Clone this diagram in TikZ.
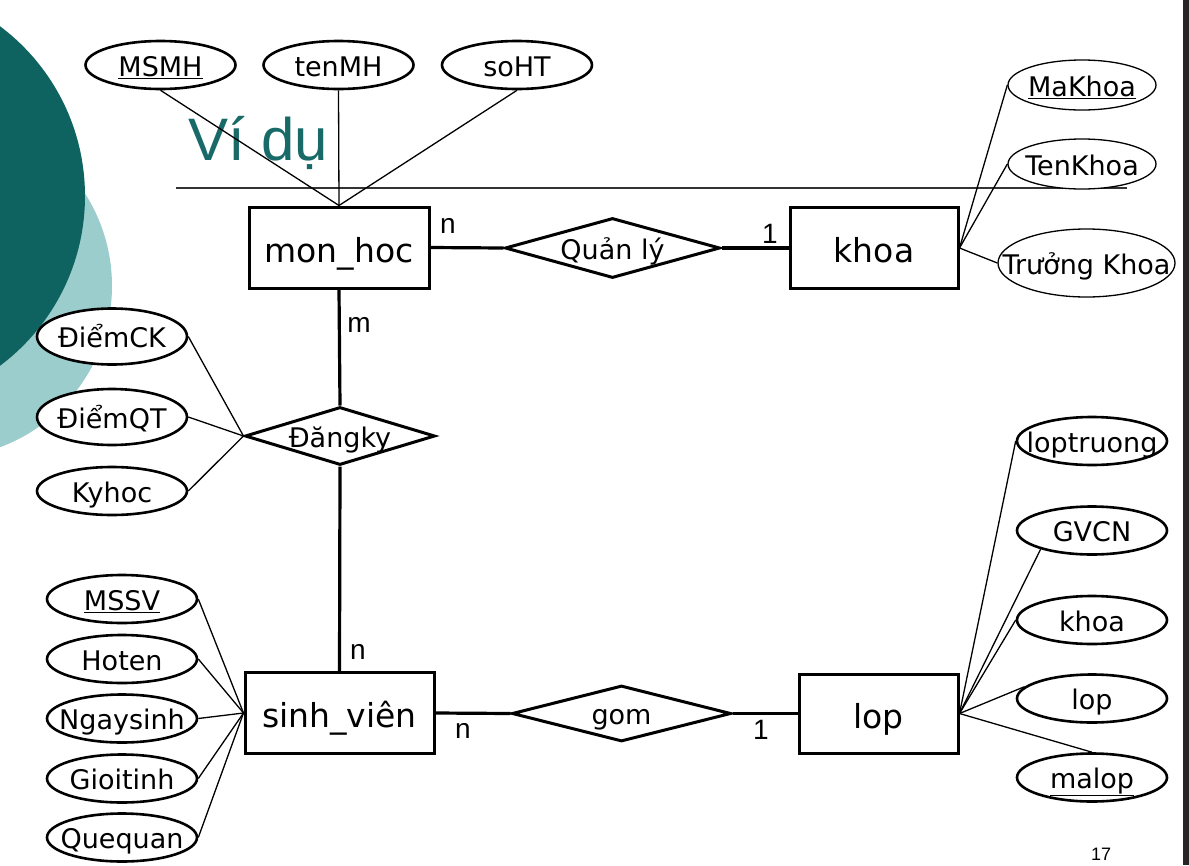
\documentclass[tikz,border=0pt]{standalone}
\usepackage{fontspec}
\setmainfont{DejaVu Sans}
\newfontfamily\arialfont{Liberation Sans}
\usetikzlibrary{shapes.geometric}

\definecolor{tealDark}{RGB}{14,98,96}
\definecolor{tealLight}{RGB}{156,205,205}
\definecolor{tealTitle}{RGB}{24,106,104}

% text that does not widen its node
\newcommand{\Flat}[1]{\makebox[0pt]{#1}}

\begin{document}
\begin{tikzpicture}
      [
        x=1pt, y=-1pt,
        Entity/.style={draw, fill=white, line width=3pt, minimum height=81pt, inner sep=0pt, text height=30pt, text depth=1pt, font=\fontsize{33}{40}\selectfont},
        Relation/.style={diamond, draw, fill=white, line width=3pt, inner sep=0pt, text height=23pt, text depth=1pt, font=\fontsize{27}{32}\selectfont},
        Attr/.style={ellipse, draw, fill=white, line width=2.6pt, minimum width=150pt, minimum height=48pt, inner sep=0pt, text height=23pt, text depth=1pt, font=\fontsize{27}{32}\selectfont},
        AttrThin/.style={Attr, line width=1.3pt},
        Card/.style={inner sep=0pt, font=\arialfont\fontsize{28}{32}\selectfont},
        Link/.style={line width=1.3pt},
        RelLink/.style={line width=3.2pt},
      ]

      \useasboundingbox (0,0) rectangle (1189,865);

      % slide background
      \begin{scope}
        \clip (0,0) rectangle (1189,865);
        \fill[tealLight] (-60,286) circle[radius=172pt];
        \fill[tealDark] (-127,196) circle[radius=212pt];
      \end{scope}
      \fill[black!85] (1183,0) rectangle (1189,865);

      \node[anchor=base west, inner sep=0pt, text=tealTitle, font=\arialfont\fontsize{60}{70}\selectfont] (title) at (188,160) {Ví dụ};
      \draw[line width=2pt, black!80] (176,188) -- (1127,188);
      \node[inner sep=0pt, font=\arialfont\fontsize{18}{20}\selectfont] (pagenum) at (1101,854) {17};

      % entities
      \node[Entity, minimum width=180pt] (monhoc) at (339,247.5) {mon\_hoc};
      \node[Entity, minimum width=168pt] (khoa) at (874,248) {khoa};
      \node[Entity, minimum width=189pt] (sv) at (339.5,713) {sinh\_viên};
      \node[Entity, minimum width=159pt, minimum height=79pt] (lop) at (878.5,713.5) {lop};

      % relationships
      \node[Relation, minimum width=215pt, minimum height=60pt] (quanly) at (612.5,248) {\Flat{Quản lý}};
      \node[Relation, minimum width=190pt, minimum height=58pt] (dangky) at (340,436) {\Flat{Đăngky}};
      \node[Relation, minimum width=219pt, minimum height=56pt] (gom) at (621.5,713.5) {\Flat{gom}};

      % attributes of mon_hoc
      \node[Attr] (msmh) at (160.5,65) {\Flat{\underline{MSMH}}};
      \node[Attr] (tenmh) at (338.5,65) {\Flat{tenMH}};
      \node[Attr] (soht) at (517,65) {\Flat{soHT}};

      % attributes of khoa
      \node[AttrThin, minimum width=148pt, minimum height=50pt] (makhoa) at (1082,85) {\Flat{\underline{MaKhoa}}};
      \node[AttrThin, minimum width=148pt, minimum height=50pt] (tenkhoa) at (1082,164) {\Flat{TenKhoa}};
      \node[AttrThin, minimum width=177pt, minimum height=68pt] (truongkhoa) at (1086.5,263) {\Flat{Trưởng Khoa}};

      % attributes of Dangky
      \node[Attr, minimum height=56pt] (diemck) at (112,336.5) {\Flat{ĐiểmCK}};
      \node[Attr, minimum height=56pt] (diemqt) at (112,417) {\Flat{ĐiểmQT}};
      \node[Attr] (kyhoc) at (112,491) {\Flat{Kyhoc}};

      % attributes of sinh_vien
      \node[Attr] (mssv) at (122,599) {\Flat{\underline{MSSV}}};
      \node[Attr] (hoten) at (122,659) {\Flat{Hoten}};
      \node[Attr] (ngaysinh) at (122,718.5) {\Flat{Ngaysinh}};
      \node[Attr] (gioitinh) at (122,778.5) {\Flat{Gioitinh}};
      \node[Attr] (quequan) at (122,837.5) {\Flat{Quequan}};

      % attributes of lop
      \node[Attr] (loptruong) at (1092,441) {\Flat{loptruong}};
      \node[Attr] (gvcn) at (1092,530.5) {\Flat{GVCN}};
      \node[Attr] (lopkhoa) at (1092,620) {\Flat{khoa}};
      \node[Attr] (loplop) at (1092,698.5) {\Flat{lop}};
      \node[Attr] (malop) at (1092,777.5) {\Flat{\underline{malop}}};

      % cardinalities
      \node[Card] (cMonhocQl) at (448,225.5) {n};
      \node[Card] (cKhoaQl) at (770,234) {1};
      \node[Card] (cMonhocDk) at (359,325) {m};
      \node[Card] (cSvDk) at (358,652) {n};
      \node[Card] (cSvGom) at (463,730.5) {n};
      \node[Card] (cLopGom) at (761,730) {1};

      % relationship lines
      \draw[RelLink] (monhoc.east) -- (quanly.west);
      \draw[RelLink] (quanly.east) -- (khoa.west);
      \draw[RelLink] (monhoc.south) -- (dangky.north);
      \draw[RelLink] (dangky.south) -- (sv.north);
      \draw[RelLink] (sv.east) -- (gom.west);
      \draw[RelLink] (gom.east) -- (lop.west);

      % attribute lines
      \draw[Link] (msmh.south) -- (monhoc.north);
      \draw[Link] (tenmh.south) -- (monhoc.north);
      \draw[Link] (soht.south) -- (monhoc.north);

      \draw[Link] (makhoa.west) -- (khoa.east);
      \draw[Link] (tenkhoa.west) -- (khoa.east);
      \draw[Link] (truongkhoa.west) -- (khoa.east);

      \draw[Link] (diemck.east) -- (dangky.west);
      \draw[Link] (diemqt.east) -- (dangky.west);
      \draw[Link] (kyhoc.east) -- (dangky.west);

      \draw[Link] (mssv.east) -- (sv.west);
      \draw[Link] (hoten.east) -- (sv.west);
      \draw[Link] (ngaysinh.east) -- (sv.west);
      \draw[Link] (gioitinh.east) -- (sv.west);
      \draw[Link] (quequan.east) -- (sv.west);

      \draw[Link] (loptruong.west) -- (lop.east);
      \draw[Link] (gvcn.200) -- (lop.east);
      \draw[Link] (lopkhoa.west) -- (lop.east);
      \draw[Link] (loplop.170) -- (lop.east);
      \draw[Link] (malop.north) -- (lop.east);
    \end{tikzpicture}
\end{document}
